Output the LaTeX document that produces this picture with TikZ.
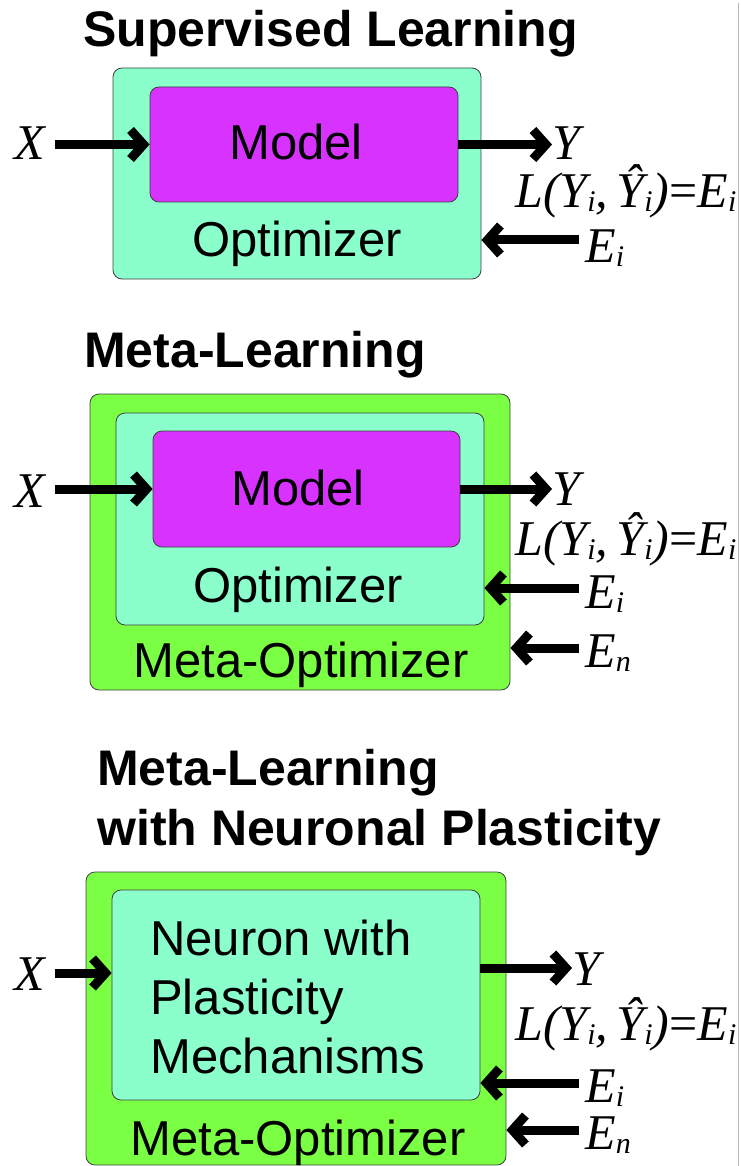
\documentclass[tikz,border=0pt]{standalone}
\usepackage{fontspec}
\setmainfont{Liberation Sans}
\newfontfamily\serif{Liberation Serif}
\usetikzlibrary{arrows.meta}

\definecolor{modelcol}{RGB}{216,50,255}
\definecolor{optcol}{RGB}{138,255,204}
\definecolor{metacol}{RGB}{122,255,68}

% 添字
\newcommand{\low}[1]{\raisebox{-4pt}{\fontsize{30}{30}\selectfont #1}}
\newcommand{\lossterm}{L(Y\low{i},\,\^{Y}\low{i}){\upshape =}E\low{i}}

\begin{document}
\begin{tikzpicture}[x=1pt, y=-1pt,
   box/.style={draw=black!75, line width=0.8pt, rounded corners=9pt, inner sep=0pt},
   modelbox/.style={box, fill=modelcol},
   optbox/.style={box, fill=optcol},
   metabox/.style={box, fill=metacol},
   flow/.style={line width=9pt, -{Straight Barb[length=13pt, width=29pt]}},
   title/.style={anchor=base west, inner sep=0pt, font=\fontsize{50}{60}\selectfont\bfseries},
   txt/.style={anchor=base, inner sep=0pt, font=\fontsize{49}{59}\selectfont},
   var/.style={anchor=base west, inner sep=0pt, font=\fontsize{50}{60}\selectfont\serif\itshape}]

   \useasboundingbox (0,0) rectangle (740,1166);
   \draw [gray!55, line width=1.5pt](738.5,3)--(738.5,1166);

   % Supervised Learning
   \node [title] (title1) at (83,47) {Supervised Learning};
   \node [optbox, minimum width=368pt, minimum height=211pt] (opt1) at (297,173.5) {};
   \node [modelbox, minimum width=308pt, minimum height=115pt] (model1) at (304,144.5) {};
   \node [txt] (modeltxt1) at (296,160) {Model};
   \node [txt] (opttxt1) at (297,257) {Optimizer};
   \node [var] (x1) at (14,160) {X};
   \node [var] (y1) at (552,160) {Y};
   \node [var] (loss1) at (515,208) {\lossterm};
   \node [var] (ei1) at (585,262) {E\low{i}};
   \draw [flow]([xshift=10pt]x1.east |- model1.west)--(model1.west);
   \draw [flow](model1.east)--(model1.east -| y1.west);
   \draw [flow]([xshift=-6pt, yshift=22pt]ei1.base west)--([yshift=22pt]ei1.base west -| opt1.east);

   % Meta-Learning
   \node [title] (title2) at (84,367) {Meta-Learning};
   \node [metabox, minimum width=420pt, minimum height=296pt] (meta2) at (300,542) {};
   \node [optbox, minimum width=368pt, minimum height=212pt] (opt2) at (300,519) {};
   \node [modelbox, minimum width=307pt, minimum height=116pt] (model2) at (306.5,489) {};
   \node [txt] (modeltxt2) at (298,505) {Model};
   \node [txt] (opttxt2) at (298,602) {Optimizer};
   \node [txt] (metatxt2) at (301,677) {Meta-Optimizer};
   \node [var] (x2) at (14,507) {X};
   \node [var] (y2) at (552,505) {Y};
   \node [var] (loss2) at (515,555) {\lossterm};
   \node [var] (ei2) at (585,608) {E\low{i}};
   \node [var] (en2) at (585,667) {E\low{n}};
   \draw [flow]([xshift=10pt]x2.east |- model2.west)--(model2.west);
   \draw [flow](model2.east)--(model2.east -| y2.west);
   \draw [flow]([xshift=-6pt, yshift=20pt]ei2.base west)--([yshift=20pt]ei2.base west -| opt2.east);
   \draw [flow]([xshift=-6pt, yshift=19pt]en2.base west)--([yshift=19pt]en2.base west -| meta2.east);

   % Meta-Learning with Neuronal Plasticity
   \node [title] (title3) at (97,785) {Meta-Learning};
   \node [title] (title3b) at (97,845) {with Neuronal Plasticity};
   \node [metabox, minimum width=420pt, minimum height=293pt] (meta3) at (296,1018.5) {};
   \node [optbox, minimum width=368pt, minimum height=210pt] (opt3) at (296,995) {};
   \node [txt, anchor=base west] (neurtxt1) at (150,955) {Neuron with};
   \node [txt, anchor=base west] (neurtxt2) at (150,1014) {Plasticity};
   \node [txt, anchor=base west] (neurtxt3) at (150,1073) {Mechanisms};
   \node [txt] (metatxt3) at (298,1155) {Meta-Optimizer};
   \node [var] (x3) at (14,990) {X};
   \node [var] (y3) at (572,985) {Y};
   \node [var] (loss3) at (515,1040) {\lossterm};
   \node [var] (ei3) at (585,1102) {E\low{i}};
   \node [var] (en3) at (585,1149) {E\low{n}};
   \draw [flow]([xshift=10pt, yshift=17pt]x3.base east)--([yshift=17pt]x3.base east -| opt3.west);
   \draw [flow]([yshift=17pt]y3.base west -| opt3.east)--([yshift=17pt]y3.base west);
   \draw [flow]([xshift=-6pt, yshift=19pt]ei3.base west)--([yshift=19pt]ei3.base west -| opt3.east);
   \draw [flow]([xshift=-6pt, yshift=19pt]en3.base west)--([yshift=19pt]en3.base west -| meta3.east);

\end{tikzpicture}
\end{document}
